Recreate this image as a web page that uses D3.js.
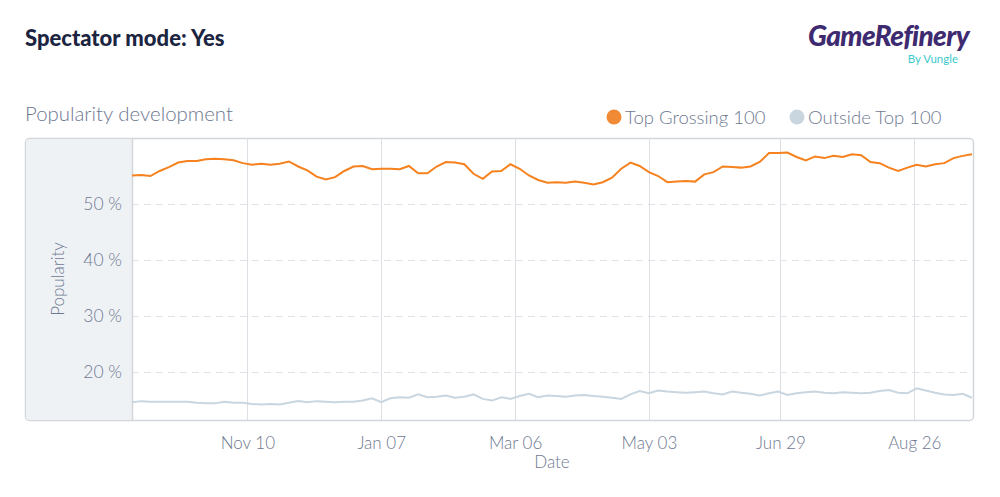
<!DOCTYPE html>
<html>
<head>
<meta charset="utf-8">
<script src="https://cdn.jsdelivr.net/npm/d3@7"></script>
<style>
  html, body { margin: 0; padding: 0; background: #ffffff; }
  svg { display: block; }
</style>
</head>
<body>
<div id="chart"></div>
<script>
// ---- data ----
const startDate = "2020-09-21";
const endDate = "2021-09-20";
const stepDays = 4;
const topGrossing = [
  55.1, 55.2, 55.0, 55.9, 56.6, 57.4, 57.7, 57.7, 58.0, 58.1,
  58.0, 57.8, 57.3, 57.0, 57.2, 57.0, 57.2, 57.6, 56.7, 56.0,
  54.9, 54.4, 54.8, 55.9, 56.7, 56.8, 56.2, 56.3, 56.3, 56.2,
  56.8, 55.5, 55.5, 56.7, 57.5, 57.4, 57.1, 55.4, 54.5, 55.8,
  55.9, 57.1, 56.3, 55.1, 54.3, 53.8, 53.9, 53.8, 54.0, 53.8,
  53.5, 53.9, 54.7, 56.3, 57.4, 56.8, 55.7, 55.0, 53.9, 54.0,
  54.1, 54.0, 55.3, 55.7, 56.7, 56.6, 56.5, 56.7, 57.5, 59.1,
  59.1, 59.2, 58.4, 57.8, 58.5, 58.2, 58.6, 58.4, 58.9, 58.7,
  57.5, 57.3, 56.5, 55.9, 56.5, 57.0, 56.7, 57.1, 57.3, 58.2,
  58.6, 58.9
];
const outsideTop = [
  14.6, 14.8, 14.7, 14.7, 14.7, 14.7, 14.7, 14.5, 14.4, 14.4,
  14.7, 14.5, 14.5, 14.3, 14.2, 14.3, 14.2, 14.5, 14.8, 14.6,
  14.8, 14.7, 14.6, 14.7, 14.7, 14.9, 15.3, 14.6, 15.3, 15.5,
  15.4, 16.0, 15.5, 15.6, 15.8, 15.4, 15.6, 16.0, 15.2, 14.9,
  15.5, 15.2, 15.7, 16.1, 15.5, 15.8, 15.7, 15.6, 15.8, 15.9,
  15.7, 15.6, 15.4, 15.2, 16.0, 16.6, 16.2, 16.7, 16.5, 16.4,
  16.3, 16.4, 16.5, 16.2, 16.0, 16.5, 16.3, 16.1, 15.8, 16.2,
  16.5, 15.9, 16.2, 16.4, 16.5, 16.3, 16.2, 16.4, 16.3, 16.2,
  16.3, 16.6, 16.8, 16.3, 16.2, 17.1, 16.7, 16.3, 16.0, 15.9,
  16.1, 15.4
];
const xTickDates = ["2020-11-10", "2021-01-07", "2021-03-06", "2021-05-03", "2021-06-29", "2021-08-26"];
const yTicks = [20, 30, 40, 50];
const seriesNames = ["Top Grossing 100", "Outside Top 100"];
const seriesColors = ["#f5821f", "#c9d6e0"];

// ---- layout ----
const W = 1000, H = 497;
const panel = { x: 25, y: 138, w: 948, h: 282 };
const plot = { left: 132, right: 972, top: 138, bottom: 420 };
const fontFam = "Lato, 'Open Sans', sans-serif";
const textGray = "#6e7891";

const parse = d3.timeParse("%Y-%m-%d");
const t0 = parse(startDate);
const dates = topGrossing.map((_, i) => d3.timeDay.offset(t0, i * stepDays));

const x = d3.scaleTime().domain([t0, parse(endDate)]).range([plot.left, plot.right]);
const y = d3.scaleLinear().domain([11.43, 61.79]).range([plot.bottom, plot.top]);

const svg = d3.select("#chart").append("svg").attr("width", W).attr("height", H);

// titles
svg.append("text").attr("x", 25).attr("y", 46)
  .attr("font-family", "Lato, sans-serif").attr("font-weight", 900).attr("font-size", 22)
  .attr("fill", "#1b2440").text("Spectator mode: Yes");

svg.append("text").attr("x", 969).attr("y", 46).attr("text-anchor", "end")
  .attr("font-family", "Lato, sans-serif").attr("font-weight", 900).attr("font-style", "italic")
  .attr("font-size", 28).attr("fill", "#3e2a70").attr("letter-spacing", -0.6).text("GameRefinery");
svg.append("text").attr("x", 958).attr("y", 63).attr("text-anchor", "end")
  .attr("font-family", "Lato, sans-serif").attr("font-size", 11.5)
  .attr("fill", "#3cc9cc").text("By Vungle");

svg.append("text").attr("x", 25).attr("y", 121)
  .attr("font-family", fontFam).attr("font-weight", 300).attr("font-size", 20.4)
  .attr("fill", textGray).text("Popularity development");

// legend
const legendItems = [
  { name: seriesNames[0], color: "#f08a35", cx: 614 },
  { name: seriesNames[1], color: seriesColors[1], cx: 797 }
];
legendItems.forEach(it => {
  svg.append("circle").attr("cx", it.cx).attr("cy", 117).attr("r", 7.5).attr("fill", it.color);
  svg.append("text").attr("x", it.cx + 11).attr("y", 124)
    .attr("font-family", fontFam).attr("font-weight", 300).attr("font-size", 18.5)
    .attr("fill", textGray).text(it.name);
});

// panel
svg.append("rect").attr("x", panel.x + 0.5).attr("y", panel.y + 0.5)
  .attr("width", panel.w).attr("height", panel.h).attr("rx", 4)
  .attr("fill", "#ffffff").attr("stroke", "#d3d7dc").attr("stroke-width", 1.5);
svg.append("path")
  .attr("d", `M${plot.left},${panel.y + 1} H${panel.x + 5} Q${panel.x + 1},${panel.y + 1} ${panel.x + 1},${panel.y + 5} V${panel.y + panel.h - 4} Q${panel.x + 1},${panel.y + panel.h} ${panel.x + 5},${panel.y + panel.h} H${plot.left} Z`)
  .attr("fill", "#eff2f5");

// vertical grid
svg.append("g").selectAll("line").data(xTickDates.map(parse)).join("line")
  .attr("x1", d => Math.round(x(d)) + 0.5).attr("x2", d => Math.round(x(d)) + 0.5)
  .attr("y1", plot.top).attr("y2", plot.bottom)
  .attr("stroke", "#dcdfe3").attr("stroke-width", 1);

// horizontal dashed grid
svg.append("g").selectAll("line").data(yTicks).join("line")
  .attr("x1", plot.left).attr("x2", plot.right)
  .attr("y1", d => Math.round(y(d)) + 0.5).attr("y2", d => Math.round(y(d)) + 0.5)
  .attr("stroke", "#dfe2e6").attr("stroke-width", 1).attr("stroke-dasharray", "7,5");

// plot left border
svg.append("line").attr("x1", plot.left + 0.5).attr("x2", plot.left + 0.5)
  .attr("y1", plot.top).attr("y2", plot.bottom).attr("stroke", "#d3d7dc").attr("stroke-width", 1.5);

// y axis
const yAxis = d3.axisLeft(y).tickValues(yTicks).tickSize(0).tickPadding(0).tickFormat(d => d + " %");
const gy = svg.append("g").attr("transform", `translate(${plot.left - 10},0)`).call(yAxis);
gy.select(".domain").remove();
gy.selectAll("text").attr("font-family", fontFam).attr("font-weight", 300)
  .attr("font-size", 17.5).attr("fill", textGray);

svg.append("text").attr("transform", `translate(64,${279}) rotate(-90)`)
  .attr("text-anchor", "middle").attr("font-family", fontFam).attr("font-weight", 300)
  .attr("font-size", 17).attr("fill", textGray).text("Popularity");

// x axis
const xAxis = d3.axisBottom(x).tickValues(xTickDates.map(parse)).tickSize(0).tickPadding(0)
  .tickFormat(d3.timeFormat("%b %d"));
const gx = svg.append("g").attr("transform", `translate(0,${plot.bottom + 17})`).call(xAxis);
gx.select(".domain").remove();
gx.selectAll("text").attr("font-family", fontFam).attr("font-weight", 300)
  .attr("font-size", 17).attr("fill", textGray);

svg.append("text").attr("x", 552).attr("y", 468).attr("text-anchor", "middle")
  .attr("font-family", fontFam).attr("font-weight", 300)
  .attr("font-size", 17).attr("fill", textGray).text("Date");

// lines
const line = d3.line().x((d, i) => x(dates[i])).y(d => y(d));
svg.append("path").datum(outsideTop).attr("d", line)
  .attr("fill", "none").attr("stroke", seriesColors[1]).attr("stroke-width", 2);
svg.append("path").datum(topGrossing).attr("d", line)
  .attr("fill", "none").attr("stroke", seriesColors[0]).attr("stroke-width", 2);
</script>
</body>
</html>
